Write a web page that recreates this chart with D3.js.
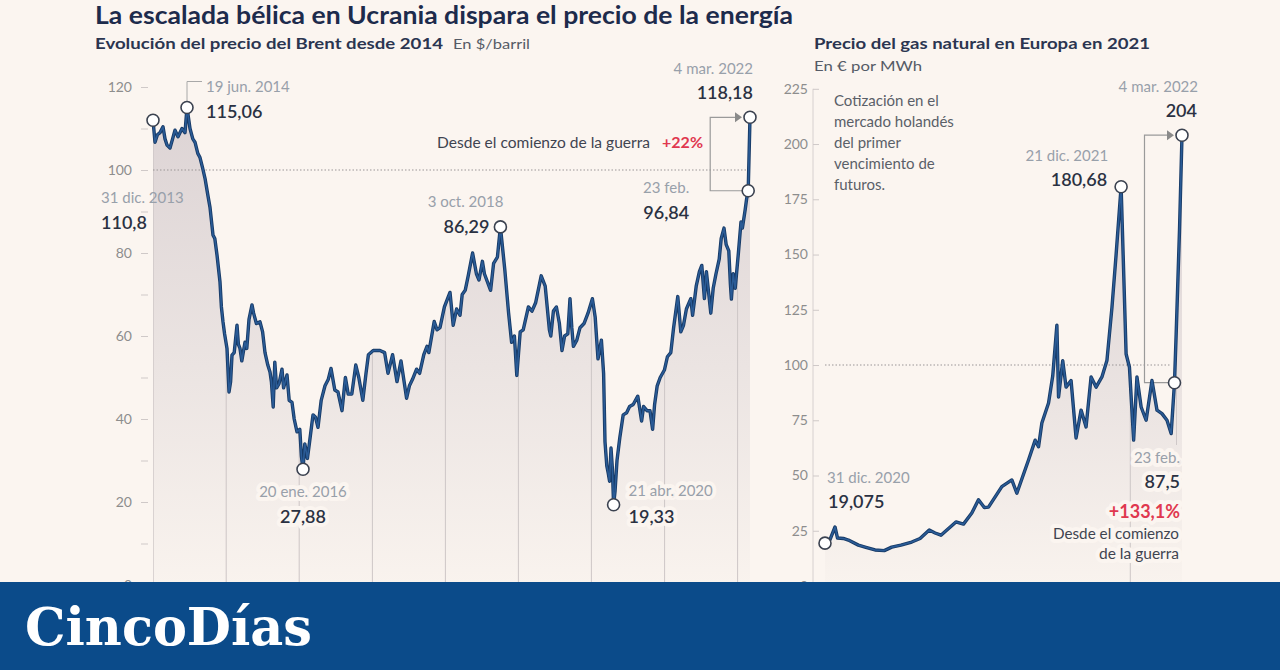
<!DOCTYPE html>
<html><head><meta charset="utf-8">
<script src="https://cdn.jsdelivr.net/npm/d3@7"></script>
<style>
html,body{margin:0;padding:0;background:#fbf5f0;}
svg{display:block;}
text{font-family:Lato,"Open Sans",sans-serif;}
</style></head><body>
<svg id="c" width="1280" height="670"></svg>
<script>
// ---------------- DATA ----------------
const brentDates = ["2013-12-31","2014-01-10","2014-01-22","2014-02-04","2014-02-19","2014-03-01","2014-03-11","2014-03-26","2014-04-08","2014-04-20","2014-05-05","2014-05-25","2014-06-09","2014-06-19","2014-07-04","2014-07-18","2014-07-29","2014-08-12","2014-08-23","2014-09-05","2014-09-17","2014-10-01","2014-10-12","2014-10-27","2014-11-05","2014-11-16","2014-12-01","2014-12-08","2014-12-16","2014-12-24","2015-01-05","2015-01-15","2015-01-23","2015-01-30","2015-02-10","2015-02-24","2015-03-03","2015-03-11","2015-03-20","2015-04-05","2015-04-14","2015-04-25","2015-05-10","2015-05-18","2015-06-01","2015-06-19","2015-07-02","2015-07-14","2015-07-28","2015-08-08","2015-08-15","2015-08-24","2015-09-01","2015-09-10","2015-09-22","2015-10-07","2015-10-15","2015-11-01","2015-11-12","2015-11-26","2015-12-07","2015-12-21","2016-01-04","2016-01-12","2016-01-20","2016-01-29","2016-02-11","2016-02-22","2016-03-10","2016-03-22","2016-04-04","2016-04-20","2016-05-09","2016-05-25","2016-06-08","2016-06-27","2016-07-13","2016-08-02","2016-08-19","2016-09-02","2016-09-20","2016-10-10","2016-10-25","2016-11-14","2016-11-30","2016-12-12","2017-01-05","2017-02-08","2017-03-03","2017-03-20","2017-04-12","2017-05-04","2017-05-24","2017-06-21","2017-07-05","2017-07-20","2017-08-10","2017-08-25","2017-09-15","2017-10-01","2017-10-10","2017-11-06","2017-11-20","2017-12-05","2017-12-27","2018-01-24","2018-02-09","2018-02-26","2018-03-15","2018-03-26","2018-04-10","2018-04-25","2018-05-17","2018-06-05","2018-06-18","2018-07-05","2018-07-15","2018-08-15","2018-08-30","2018-09-18","2018-10-03","2018-10-25","2018-11-13","2018-11-28","2018-12-12","2018-12-24","2019-01-10","2019-01-25","2019-02-20","2019-03-10","2019-03-28","2019-04-25","2019-05-15","2019-06-05","2019-06-12","2019-06-25","2019-07-10","2019-07-25","2019-08-07","2019-08-20","2019-09-05","2019-09-16","2019-09-25","2019-10-03","2019-10-20","2019-11-05","2019-11-25","2019-12-15","2020-01-06","2020-01-20","2020-02-03","2020-02-20","2020-03-02","2020-03-09","2020-03-18","2020-03-25","2020-04-01","2020-04-08","2020-04-15","2020-04-21","2020-04-28","2020-05-08","2020-05-22","2020-06-08","2020-06-25","2020-07-10","2020-07-28","2020-08-20","2020-09-08","2020-09-18","2020-10-05","2020-10-20","2020-11-02","2020-11-12","2020-11-25","2020-12-10","2020-12-31","2021-01-15","2021-02-01","2021-02-15","2021-03-08","2021-03-23","2021-04-05","2021-04-20","2021-05-12","2021-05-21","2021-06-08","2021-06-24","2021-07-06","2021-07-19","2021-07-29","2021-08-20","2021-09-01","2021-09-15","2021-10-01","2021-10-11","2021-10-25","2021-11-05","2021-11-18","2021-11-26","2021-12-01","2021-12-10","2021-12-20","2022-01-05","2022-01-18","2022-01-25","2022-02-08","2022-02-15","2022-02-23","2022-03-04"];
const brentValues = [112,106.7,108.5,109,110.4,107.5,106,105.3,107.5,109.6,108,110,109,115.06,110,107.5,106.7,104,103,100.5,98,94,91,84.3,83.5,79.5,73,67,63.4,60.5,57,46.5,49,55.4,56,62.6,58,57,54,58.5,57,64,67.5,65.5,63,63.4,61,56,53,51.3,49,42.9,53.7,47.5,48.5,52,47.5,50.6,44.5,44,40,36.9,37.5,31,27.88,34,30.5,34.5,41,40.5,38,44.5,48,49.5,52.2,47,46.5,42,50,46,46,53,50,44.5,51,55.5,56.5,56.5,56,51,55.5,49,54,45,48,49.5,52,51,55.5,57.5,56,63.5,61.5,62,67,70.5,62.6,66.5,65,70,71,74.5,80,75,73.5,78,75,71,77.5,79,86.29,76,65.5,58.5,60,50.5,61,61.5,67,66,68,74.5,72,61.5,60,66,67,63,56.5,60,60.5,69,62,57.5,59,62,63,65.5,69,64.5,54.5,59,51,34.5,28.7,27,25,33,28,19.33,22.5,30,35.5,41,41.5,43,43.5,45.5,39.5,43,42,42,37.5,43.5,48,50,51.8,55,56,62,69.5,61,62.5,66.5,69,65,72,75.5,77,69,75.5,65.5,71.5,75,78.5,83.5,86,82,80.5,72.5,68.9,75,71.5,80,87.5,86,90.5,93,95,112.7];

const gasDates = ["2020-12-31","2021-01-06","2021-01-12","2021-01-15","2021-01-22","2021-01-28","2021-02-09","2021-02-18","2021-03-01","2021-03-12","2021-03-21","2021-04-01","2021-04-14","2021-04-24","2021-05-05","2021-05-12","2021-05-19","2021-06-06","2021-06-15","2021-06-25","2021-07-03","2021-07-10","2021-07-15","2021-07-31","2021-08-12","2021-08-18","2021-09-01","2021-09-09","2021-09-13","2021-09-17","2021-09-25","2021-09-30","2021-10-05","2021-10-07","2021-10-12","2021-10-16","2021-10-22","2021-10-28","2021-11-03","2021-11-09","2021-11-15","2021-11-21","2021-11-28","2021-12-04","2021-12-10","2021-12-15","2021-12-21","2021-12-27","2021-12-31","2022-01-05","2022-01-09","2022-01-14","2022-01-20","2022-01-27","2022-02-02","2022-02-08","2022-02-14","2022-02-19","2022-02-23","2022-02-25","2022-03-01","2022-03-04"];
const gasValues = [19.4,21,26.7,21.7,21.5,20.8,18.5,17.5,16.3,16,17.6,18.5,19.9,21.5,25.3,24,23,29,28,33,39,35.5,35.7,45,48,42,57,66,63,73.8,82.8,95,118,85.5,102,90,93,67,79.6,72,94.6,90,94.6,102,126,150,180.68,105,99,66,94.6,81,75,93,79.6,78,75,69,92,114,161,204];

const brentTicks = [0,10,20,30,40,50,60,70,80,90,100,110,120];
const brentTickLabels = [0,20,40,60,80,100,120];
const gasTicks = [0,25,50,75,100,125,150,175,200,225];
const brentYears = ["2014-01-01","2015-01-01","2016-01-01","2017-01-01","2018-01-01","2019-01-01","2020-01-01","2021-01-01","2022-01-01"];
const gasYears = ["2022-01-01"];

const brentMarkDates = ["2013-12-31","2014-06-19","2016-01-20","2018-10-03","2020-04-21","2022-02-23","2022-03-04"];
const gasMarkDates = ["2020-12-31","2021-12-21","2022-02-23","2022-03-04"];

const titleText = "La escalada bélica en Ucrania dispara el precio de la energía";
const brentSubtitle = "Evolución del precio del Brent desde 2014";
const brentUnit = "En $/barril";
const gasSubtitle = "Precio del gas natural en Europa en 2021";
const gasUnit = "En € por MWh";
const gasNote = ["Cotización en el","mercado holandés","del primer","vencimiento de","futuros."];

// ---------------- SETUP ----------------
const parse = d3.timeParse("%Y-%m-%d");
const brent = brentDates.map((d,i)=>({date:parse(d), value:brentValues[i]}));
const gas = gasDates.map((d,i)=>({date:parse(d), value:gasValues[i]}));
const findB = s => brent.find(d=>+d.date===+parse(s));
const findG = s => gas.find(d=>+d.date===+parse(s));

const BG = "#fbf5f0";
const LINE = "#1f4a7f";
const GREY = "#98a0aa";
const DARK = "#2a3142";
const RED = "#e0384f";

const svg = d3.select("#c");
svg.append("rect").attr("width",1280).attr("height",670).attr("fill",BG);
const defs = svg.append("defs");

function grad(id, y1, y2){
  const g = defs.append("linearGradient").attr("id",id).attr("gradientUnits","userSpaceOnUse")
    .attr("x1",0).attr("x2",0).attr("y1",y1).attr("y2",y2);
  g.append("stop").attr("offset",0).attr("stop-color","#dcd3d4");
  g.append("stop").attr("offset",0.55).attr("stop-color","#ebe4e2");
  g.append("stop").attr("offset",1).attr("stop-color","#f9f3ee");
}
grad("gB",100,585);
grad("gG",180,585);

const xB = d3.scaleTime().domain([parse("2013-12-31"), parse("2022-03-04")]).range([153,750]);
const yB = d3.scaleLinear().domain([0,120]).range([585,87]);
const xG = d3.scaleTime().domain([parse("2020-12-31"), parse("2022-03-04")]).range([825,1182]);
const yG = d3.scaleLinear().domain([0,225]).range([586,88.8]);

function txt(g, x, y, s, o={}){
  const t = g.append("text").attr("x",x).attr("y",y).text(s)
    .attr("font-size",o.size||15).attr("fill",o.fill||DARK)
    .attr("font-weight",o.weight||400)
    .attr("text-anchor",o.anchor||"start");
  if(o.family) t.style("font-family",o.family);
  if(o.halo) t.attr("stroke",BG).attr("stroke-width",o.halo).attr("paint-order","stroke").attr("stroke-linejoin","round");
  if(o.width) t.attr("textLength",o.width).attr("lengthAdjust","spacingAndGlyphs");
  return t;
}

function drawChart(data, x, y, gradId, years, clipId){
  const g = svg.append("g");
  const area = d3.area().x(d=>x(d.date)).y0(y(0)).y1(d=>y(d.value));
  const line = d3.line().x(d=>x(d.date)).y(d=>y(d.value));
  g.append("path").datum(data).attr("d",area).attr("fill",`url(#${gradId})`);
  defs.append("clipPath").attr("id",clipId).append("path").datum(data).attr("d",area);
  g.append("g").attr("clip-path",`url(#${clipId})`).selectAll("line").data(years).join("line")
    .attr("x1",d=>x(parse(d))).attr("x2",d=>x(parse(d)))
    .attr("y1",y(0)).attr("y2",y.range()[1]-20)
    .attr("stroke","#cdc6c6").attr("stroke-width",1);
  return {g, line, area};
}

// ---------------- BRENT ----------------
const cB = drawChart(brent, xB, yB, "gB", brentYears, "clipB");
// ticks
const axB = svg.append("g").attr("transform","translate(148,0)")
  .call(d3.axisLeft(yB).tickValues(brentTicks).tickSize(7).tickPadding(9)
    .tickFormat(d=> brentTickLabels.includes(d) ? d : ""));
axB.select(".domain").remove();
axB.selectAll(".tick line").attr("stroke","#cfc9c8");
axB.selectAll(".tick text").attr("fill","#8d8d8d").attr("font-size",14).style("font-family","Lato,sans-serif");

// dotted 100
svg.append("line").attr("x1",xB.range()[0]).attr("x2",xB.range()[1]-4)
  .attr("y1",yB(100)).attr("y2",yB(100))
  .attr("stroke","#9a9696").attr("stroke-width",1.2).attr("stroke-dasharray","1.5,2");

// ---------------- GAS ----------------
const cG = drawChart(gas, xG, yG, "gG", gasYears, "clipG");
svg.append("line").attr("x1",813).attr("x2",813).attr("y1",yG(225)).attr("y2",yG(0))
  .attr("stroke","#d6d0cf");
const axG = svg.append("g").attr("transform","translate(813,0)")
  .call(d3.axisRight(yG).tickValues(gasTicks).tickSize(6).tickFormat(""));
axG.select(".domain").remove();
axG.selectAll(".tick line").attr("stroke","#cfc9c8");
svg.append("g").selectAll("text").data(gasTicks).join("text")
  .attr("x",808).attr("y",d=>yG(d)).attr("dy","0.35em").attr("text-anchor","end")
  .attr("font-size",14).attr("fill","#8d8d8d").text(d=>d);
svg.append("line").attr("x1",xG.range()[0]).attr("x2",1170)
  .attr("y1",yG(100)).attr("y2",yG(100))
  .attr("stroke","#9a9696").attr("stroke-width",1.2).attr("stroke-dasharray","1.5,2");

// ---------------- TEXT LABELS (under lines) ----------------
const L = svg.append("g");
// Brent labels
{
  const p = findB("2014-06-19"), px=xB(p.date), py=yB(p.value);
  L.append("path").attr("d",`M${px},${py-6}V${py-26}H${px+15}`).attr("fill","none").attr("stroke","#a8a8a8");
  txt(L, px+19, py-16, "19 jun. 2014", {fill:GREY, size:15});
  txt(L, px+19, py+10, "115,06", {size:18, weight:600});
}
{
  const p = findB("2013-12-31"), px=xB(p.date);
  txt(L, px-52, 203, "31 dic. 2013", {fill:GREY, size:15});
  txt(L, px-52, 229, "110,8", {size:18, weight:600});
}
{
  const p = findB("2016-01-20"), px=xB(p.date), py=yB(p.value);
  txt(L, px, py+28, "20 ene. 2016", {fill:GREY, size:15, anchor:"middle", halo:8});
  txt(L, px, py+54, "27,88", {size:18, weight:600, anchor:"middle", halo:8});
}
{
  const p = findB("2018-10-03"), px=xB(p.date), py=yB(p.value);
  txt(L, px+3, py-20, "3 oct. 2018", {fill:GREY, size:15, anchor:"end"});
  txt(L, px-11, py+6, "86,29", {size:18, weight:600, anchor:"end"});
}
{
  const p = findB("2020-04-21"), px=xB(p.date), py=yB(p.value);
  txt(L, px+15, py-9, "21 abr. 2020", {fill:GREY, size:15, halo:8});
  txt(L, px+15, py+18, "19,33", {size:18, weight:600, halo:8});
}
{
  const p = findB("2022-03-04"), px=xB(p.date), py=yB(p.value);
  txt(L, px+3, 74, "4 mar. 2022", {fill:GREY, size:15, anchor:"end"});
  txt(L, px+3, 99, "118,18", {size:18, weight:600, anchor:"end"});
  const q = findB("2022-02-23"), qx=xB(q.date), qy=yB(q.value);
  txt(L, qx-59, qy+2, "23 feb.", {fill:GREY, size:15, anchor:"end"});
  txt(L, qx-59, qy+28, "96,84", {size:18, weight:600, anchor:"end"});
  // bracket
  const bx = qx-38;
  L.append("path").attr("d",`M${qx-6},${qy}H${bx}V${py}H${px-14}`).attr("fill","none").attr("stroke","#9a9a9a").attr("stroke-width",1.2);
  L.append("path").attr("d",`M${px-15},${py-5}L${px-8},${py}L${px-15},${py+5}Z`).attr("fill","#8a8a8a");
  const t = txt(L, 650, 148, "Desde el comienzo de la guerra", {size:14.5, fill:"#3f4450", anchor:"end", width:213});
  txt(L, 703, 148, "+22%", {size:16, fill:RED, weight:700, anchor:"end"});
}
// Gas labels
gasNote.forEach((s,i)=> txt(L, 834, 106+i*21, s, {size:15, fill:"#5a5f68"}));
{
  const p = findG("2020-12-31"), px=xG(p.date);
  txt(L, px+2, 483, "31 dic. 2020", {fill:GREY, size:15});
  txt(L, px+3, 508, "19,075", {size:18, weight:600});
}
{
  const p = findG("2021-12-21"), px=xG(p.date), py=yG(p.value);
  txt(L, px-13, py-26, "21 dic. 2021", {fill:GREY, size:15, anchor:"end"});
  txt(L, px-14, py-1, "180,68", {size:18, weight:600, anchor:"end"});
}
{
  const p = findG("2022-03-04"), px=xG(p.date), py=yG(p.value);
  txt(L, px+16, 92, "4 mar. 2022", {fill:GREY, size:15, anchor:"end"});
  txt(L, px+15, 117, "204", {size:18, weight:600, anchor:"end"});
  const q = findG("2022-02-23"), qx=xG(q.date), qy=yG(q.value);
  // leader down
  L.append("line").attr("x1",qx+2).attr("x2",qx+2).attr("y1",qy+6).attr("y2",445).attr("stroke","#cfc8c8");
  txt(L, 1180, 463, "23 feb.", {fill:GREY, size:15, anchor:"end", halo:8});
  txt(L, 1180, 488, "87,5", {size:18, weight:600, anchor:"end", halo:8});
  txt(L, 1180, 518, "+133,1%", {size:18, weight:700, fill:RED, anchor:"end", halo:8});
  txt(L, 1179, 539, "Desde el comienzo", {size:14.5, fill:"#3f4450", anchor:"end", halo:8, width:126});
  txt(L, 1179, 559, "de la guerra", {size:14.5, fill:"#3f4450", anchor:"end", halo:8, width:80});
  const bx = qx-30;
  L.append("path").attr("d",`M${qx-6},${qy}H${bx}V${py}H${px-14}`).attr("fill","none").attr("stroke","#9a9a9a").attr("stroke-width",1.2);
  L.append("path").attr("d",`M${px-15},${py-5}L${px-8},${py}L${px-15},${py+5}Z`).attr("fill","#8a8a8a");
}

// ---------------- LINES ----------------
[[brent,cB.line],[gas,cG.line]].forEach(([d,l])=>{
  svg.append("path").datum(d).attr("d",l).attr("fill","none").attr("stroke","#173a66").attr("stroke-width",3.4).attr("stroke-linejoin","round");
  svg.append("path").datum(d).attr("d",l).attr("fill","none").attr("stroke","#2a5b96").attr("stroke-width",1.6).attr("stroke-linejoin","round");
});

// markers
svg.append("g").selectAll("circle").data(brentMarkDates.map(findB)).join("circle")
  .attr("cx",d=>xB(d.date)).attr("cy",d=>yB(d.value)).attr("r",6)
  .attr("fill","#fff").attr("stroke","#3b4250").attr("stroke-width",1.6);
svg.append("g").selectAll("circle").data(gasMarkDates.map(findG)).join("circle")
  .attr("cx",d=>xG(d.date)).attr("cy",d=>yG(d.value)).attr("r",6)
  .attr("fill","#fff").attr("stroke","#3b4250").attr("stroke-width",1.6);

// ---------------- TITLES ----------------
txt(svg, 95, 24, titleText, {size:24, weight:700, fill:"#1d2b4c", width:698});
txt(svg, 95, 49, brentSubtitle, {size:15, weight:700, fill:"#2b3550", width:348});
txt(svg, 453, 49, brentUnit, {size:14, fill:"#555b66", width:77});
txt(svg, 814, 49, gasSubtitle, {size:15, weight:700, fill:"#2b3550", width:336});
txt(svg, 814, 71, gasUnit, {size:14, fill:"#555b66", width:108});

// ---------------- BANNER ----------------
svg.append("rect").attr("x",0).attr("y",582).attr("width",1280).attr("height",88).attr("fill","#0b4b8a");
txt(svg, 25, 645, "CincoDías", {size:52, weight:700, fill:"#ffffff", family:"'DejaVu Serif',serif", width:287});
</script>
</body></html>
